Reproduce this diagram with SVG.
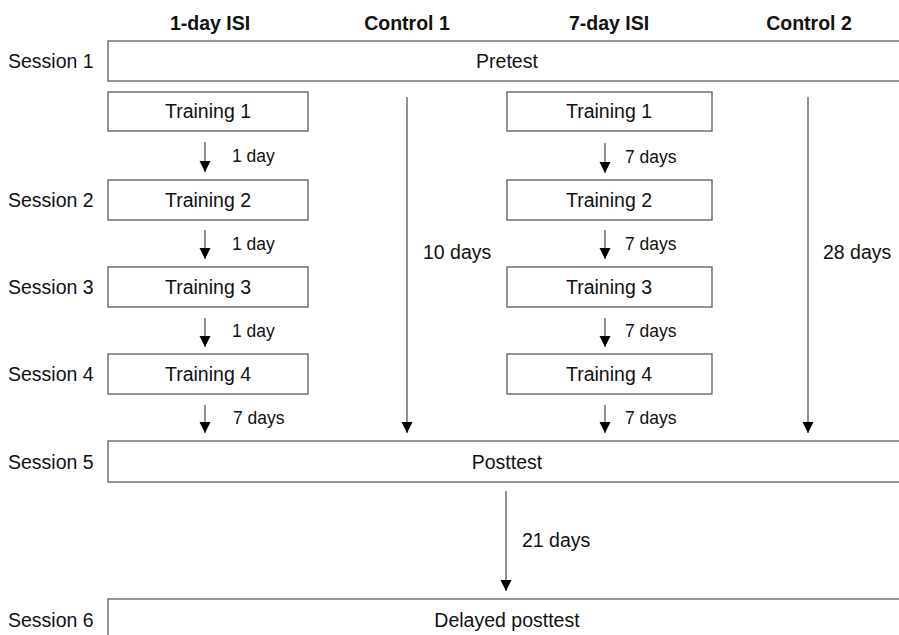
<svg xmlns="http://www.w3.org/2000/svg" width="899" height="635" viewBox="0 0 899 635">
<defs>
<style>
text{font-family:"Liberation Sans",Arial,Helvetica,sans-serif;fill:#111}
.h{font-size:19.5px;font-weight:bold;text-anchor:middle}
.s{font-size:19.5px}
.b{font-size:19.5px;text-anchor:middle}
.l{font-size:17.5px}
.box{fill:#fff;stroke:#666;stroke-width:1.4}
.c{stroke:#555;stroke-width:1.3;fill:none;marker-end:url(#ah)}
</style>
<marker id="ah" viewBox="0 0 11 12" refX="11" refY="5.5" markerWidth="11" markerHeight="12" markerUnits="userSpaceOnUse" orient="auto">
<path d="M0,0 L11,5.5 L0,11 Z" fill="#000"/>
</marker>
</defs>
<rect width="899" height="635" fill="#fff"/>
<g id="headers">
<text class="h" x="210" y="30">1-day ISI</text>
<text class="h" x="407" y="30">Control 1</text>
<text class="h" x="609" y="30">7-day ISI</text>
<text class="h" x="809" y="30">Control 2</text>
</g>
<g id="session-labels">
<text class="s" x="8" y="68">Session 1</text>
<text class="s" x="8" y="207">Session 2</text>
<text class="s" x="8" y="294">Session 3</text>
<text class="s" x="8" y="381">Session 4</text>
<text class="s" x="8" y="469">Session 5</text>
<text class="s" x="8" y="627">Session 6</text>
</g>
<g id="pretest"><rect class="box" x="108" y="41" width="810" height="40"/><text class="b" x="507" y="68">Pretest</text></g>
<g id="a-training1"><rect class="box" x="108" y="92" width="200" height="39"/><text class="b" x="208" y="118">Training 1</text></g>
<g id="a-training2"><rect class="box" x="108" y="180" width="200" height="40"/><text class="b" x="208" y="207">Training 2</text></g>
<g id="a-training3"><rect class="box" x="108" y="267" width="200" height="40"/><text class="b" x="208" y="294">Training 3</text></g>
<g id="a-training4"><rect class="box" x="108" y="354" width="200" height="40"/><text class="b" x="208" y="381">Training 4</text></g>
<g id="b-training1"><rect class="box" x="507" y="92" width="205" height="39"/><text class="b" x="609" y="118">Training 1</text></g>
<g id="b-training2"><rect class="box" x="507" y="180" width="205" height="40"/><text class="b" x="609" y="207">Training 2</text></g>
<g id="b-training3"><rect class="box" x="507" y="267" width="205" height="40"/><text class="b" x="609" y="294">Training 3</text></g>
<g id="b-training4"><rect class="box" x="507" y="354" width="205" height="40"/><text class="b" x="609" y="381">Training 4</text></g>
<g id="posttest"><rect class="box" x="108" y="441" width="810" height="41"/><text class="b" x="507" y="469">Posttest</text></g>
<g id="delayed-posttest"><rect class="box" x="108" y="599" width="810" height="45"/><text class="b" x="507" y="627">Delayed posttest</text></g>
<g id="connectors">
<line class="c" x1="205" y1="142" x2="205" y2="172"/>
<line class="c" x1="205" y1="230" x2="205" y2="259"/>
<line class="c" x1="205" y1="318" x2="205" y2="347"/>
<line class="c" x1="205" y1="405" x2="205" y2="433"/>
<line class="c" x1="605" y1="143" x2="605" y2="173"/>
<line class="c" x1="605" y1="230" x2="605" y2="259"/>
<line class="c" x1="605" y1="318" x2="605" y2="347"/>
<line class="c" x1="605" y1="405" x2="605" y2="433"/>
<line class="c" x1="407" y1="97" x2="407" y2="433"/>
<line class="c" x1="808" y1="97" x2="808" y2="433"/>
<line class="c" x1="506" y1="491" x2="506" y2="591"/>
</g>
<g id="connector-labels">
<text class="l" x="232" y="162">1 day</text>
<text class="l" x="232" y="250">1 day</text>
<text class="l" x="232" y="337">1 day</text>
<text class="l" x="233" y="424">7 days</text>
<text class="l" x="625" y="163">7 days</text>
<text class="l" x="625" y="250">7 days</text>
<text class="l" x="625" y="337">7 days</text>
<text class="l" x="625" y="424">7 days</text>
<text class="s" x="423" y="259">10 days</text>
<text class="s" x="823" y="259">28 days</text>
<text class="s" x="522" y="547">21 days</text>
</g>
</svg>
